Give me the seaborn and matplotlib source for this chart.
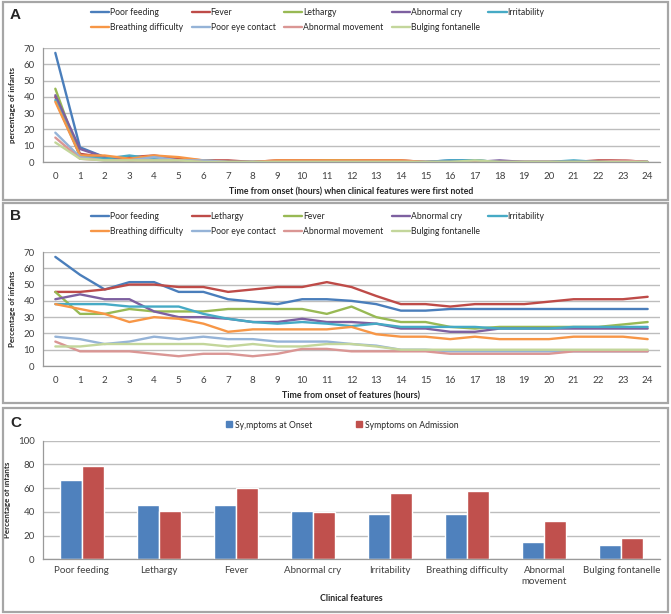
import numpy as np
import pandas as pd
import seaborn as sns
import matplotlib.pyplot as plt
from matplotlib.patches import Rectangle
from matplotlib.lines import Line2D

# ---- data -------------------------------------------------------------
hours = list(range(25))

# panel A: hour when each feature was first noted (% of infants)
a_poor_feeding = [67, 9, 3, 2, 1, 1, 1, 0, 0, 0, 0, 0, 0, 0, 0, 0, 1, 1, 0, 0, 0, 0, 0, 0, 0]
a_fever = [40, 5, 3, 3, 4, 2, 1, 1, 0, 1, 1, 1, 1, 1, 1, 0, 0, 0, 0, 0, 0, 0, 1, 1, 0]
a_lethargy = [45, 3, 2, 1, 1, 1, 0, 0, 0, 0, 0, 1, 1, 0, 0, 0, 0, 1, 0, 0, 0, 0, 0, 0, 0]
a_abnormal_cry = [41, 8, 3, 1, 2, 1, 1, 0, 0, 0, 0, 0, 0, 0, 0, 0, 0, 0, 1, 0, 0, 0, 0, 0, 0]
a_irritability = [38, 4, 2, 4, 2, 1, 1, 0, 0, 0, 0, 0, 0, 0, 0, 0, 1, 1, 0, 0, 0, 1, 0, 0, 0]
a_breathing = [37, 4, 4, 2, 4, 3, 1, 0, 0, 1, 1, 1, 1, 1, 1, 0, 0, 0, 0, 0, 0, 0, 0, 0, 0]
a_eye_contact = [18, 3, 1, 1, 3, 1, 1, 0, 0, 0, 0, 0, 0, 0, 0, 0, 0, 0, 0, 0, 0, 0, 0, 0, 0]
a_abnormal_movement = [15, 2, 1, 1, 1, 1, 0, 0, 0, 0, 0, 0, 0, 0, 0, 0, 0, 0, 0, 0, 0, 0, 0, 1, 0]
a_bulging = [12, 2, 1, 1, 1, 1, 0, 0, 0, 0, 0, 0, 0, 0, 0, 0, 0, 1, 0, 0, 0, 0, 0, 0, 0]

# panel B: features present over time (% of infants)
b_poor_feeding = [67, 56, 47, 51.5, 51.5, 45.5, 45.5, 41, 39.5, 38, 41, 41, 40, 38, 34, 34, 35, 35, 35, 35, 35, 35, 35, 35, 35]
b_lethargy = [45.5, 45.5, 47, 50, 50, 48.5, 48.5, 45.5, 47, 48.5, 48.5, 51.5, 48.5, 43, 38, 38, 36.5, 38, 38, 38, 39.5, 41, 41, 41, 42.5]
b_fever = [45.5, 32, 32, 35, 33.5, 33.5, 33.5, 35, 35, 35, 35, 32, 36.5, 30, 27, 27, 24, 23, 24, 24, 24, 24, 24, 25.5, 27]
b_abnormal_cry = [41, 44, 41, 41, 33.5, 30, 30, 29, 27, 27, 29, 27, 27, 26, 23, 23, 21, 21, 23, 23, 23, 23, 23, 23, 23]
b_irritability = [38, 38, 38, 36.5, 36.5, 36.5, 32, 29, 27, 26, 27, 26, 24.5, 26, 24, 24, 24, 24, 23, 23, 23, 24, 24, 24, 24]
b_breathing = [38, 35, 32, 27, 30, 29, 26, 21, 22.5, 22.5, 22.5, 22.5, 24, 19.5, 18, 18, 16.5, 18, 16.5, 16.5, 16.5, 18, 18, 18, 16.5]
b_eye_contact = [18, 16.5, 13.5, 15, 18, 16.5, 18, 16.5, 16.5, 15, 15, 15, 13.5, 12.5, 10, 10, 9, 9, 9, 9, 9, 9, 9, 9, 9]
b_abnormal_movement = [15, 9, 9, 9, 7.5, 6, 7.5, 7.5, 6, 7.5, 10.5, 10.5, 9, 9, 9, 9, 7.5, 7.5, 7.5, 7.5, 7.5, 9, 9, 9, 9]
b_bulging = [12, 12, 13.5, 13.5, 13.5, 13.5, 13.5, 12, 13.5, 12, 12, 13.5, 13.5, 12, 10, 10, 10, 10, 10, 10, 10, 10, 10, 10, 10]

# panel C: onset vs admission
features = ['Poor feeding', 'Lethargy', 'Fever', 'Abnormal cry', 'Irritability',
            'Breathing difficulty', 'Abnormal\nmovement', 'Bulging fontanelle']
onset = [67, 45.5, 45.5, 41, 38, 38, 15, 12]
admission = [79, 41, 60.5, 39.5, 56, 58, 32, 18]

excel_colors = ['#4A7EBB', '#BE4B48', '#98B954', '#7D60A0', '#46AAC5',
                '#F79646', '#95B3D7', '#DA9694', '#C3D69B']

a_series = {'Poor feeding': a_poor_feeding, 'Fever': a_fever, 'Lethargy': a_lethargy,
            'Abnormal cry': a_abnormal_cry, 'Irritability': a_irritability,
            'Breathing difficulty': a_breathing, 'Poor eye contact': a_eye_contact,
            'Abnormal movement': a_abnormal_movement, 'Bulging fontanelle': a_bulging}
b_series = {'Poor feeding': b_poor_feeding, 'Lethargy': b_lethargy, 'Fever': b_fever,
            'Abnormal cry': b_abnormal_cry, 'Irritability': b_irritability,
            'Breathing difficulty': b_breathing, 'Poor eye contact': b_eye_contact,
            'Abnormal movement': b_abnormal_movement, 'Bulging fontanelle': b_bulging}

sns.set_style('white')
plt.rcParams['font.family'] = ['Lato', 'DejaVu Sans']
tick_color = '#404040'
grid_color = '#BDBDBD'

W, H = 671, 614
fig = plt.figure(figsize=(W / 100, H / 100), dpi=100)


def px_axes(left, top, right, bottom):
    return fig.add_axes([left / W, 1 - bottom / H, (right - left) / W, (bottom - top) / H])


def style_axes(ax, ymax, ystep):
    ax.set_ylim(0, ymax)
    ax.set_yticks(np.arange(0, ymax + 1, ystep))
    ax.yaxis.grid(True, color=grid_color, lw=1)
    ax.set_axisbelow(True)
    for s in ['top', 'right']:
        ax.spines[s].set_visible(False)
    for s in ['left', 'bottom']:
        ax.spines[s].set_color('#9A9A9A')
        ax.spines[s].set_linewidth(0.9)
    ax.tick_params(axis='y', length=3, color='#9A9A9A', labelsize=7, labelcolor=tick_color, pad=3)
    ax.tick_params(axis='x', which='major', length=0, labelsize=7, labelcolor=tick_color, pad=7)
    ax.tick_params(axis='x', which='minor', length=3, color='#9A9A9A')


def draw_box(top, bottom):
    fig.patches.append(Rectangle((3 / W, 1 - bottom / H), (668 - 3) / W, (bottom - top) / H,
                                 transform=fig.transFigure, fill=False,
                                 edgecolor='#A6A6A6', lw=1.6))


def line_panel(series, top, bottom, legend_top, xlabel, ylabel, letter, box):
    draw_box(*box)
    names = list(series.keys())
    df = pd.DataFrame({'hour': hours * len(names),
                       'feature': np.repeat(names, len(hours)),
                       'pct': np.concatenate([series[n] for n in names])})
    ax = px_axes(43, top, 660, bottom)
    sns.lineplot(data=df, x='hour', y='pct', hue='feature', hue_order=names,
                 palette=excel_colors, lw=1.7, ax=ax, legend=False)
    ax.set_xlim(-0.5, 24.5)
    ax.set_xticks(hours)
    ax.set_xticks(np.arange(-0.5, 25, 1), minor=True)
    style_axes(ax, 70, 10)
    ax.set_xlabel(xlabel, fontsize=6.3, fontweight='bold', labelpad=5)
    ax.set_ylabel(ylabel, fontsize=5.8, fontweight='bold', labelpad=5)
    # legend: 5 entries in the first row, 4 in the second
    handles = [Line2D([], [], color=c, lw=1.7) for c in excel_colors]
    order = [0, 5, 1, 6, 2, 7, 3, 8, 4]
    fig.legend([handles[i] for i in order], [names[i] for i in order],
               loc='upper left', bbox_to_anchor=(91 / W, 1 - legend_top / H),
               ncol=5, frameon=False, fontsize=6.2, handlelength=2.1,
               handletextpad=0.1, columnspacing=1.0, labelspacing=0.75,
               borderpad=0, borderaxespad=0)
    fig.text(10 / W, 1 - (box[0] + 13) / H, letter, fontsize=11, fontweight='bold',
             family=['Liberation Sans', 'DejaVu Sans'], va='center')
    return ax


line_panel(a_series, 48, 162, 8, 'Time from onset (hours) when clinical features were first noted',
           'percentage of infants', 'A', (2, 200))
line_panel(b_series, 252, 366, 212, 'Time from onset of features (hours)',
           'Percentage of infants', 'B', (203, 403))

# ---- panel C ----------------------------------------------------------
draw_box(408, 612)
dfc = pd.DataFrame({'feature': features * 2,
                    'group': ['Sy,mptoms at Onset'] * len(features) + ['Symptoms on Admission'] * len(features),
                    'pct': onset + admission})
axc = px_axes(43, 440.7, 660, 559.3)
sns.barplot(data=dfc, x='feature', y='pct', hue='group', palette=['#4F81BD', '#C0504D'],
            width=0.572, gap=0, saturation=1, ax=axc, legend=False)
axc.set_xlim(-0.5, len(features) - 0.5)
axc.set_xticks(np.arange(-0.5, len(features), 1), minor=True)
style_axes(axc, 100, 20)
axc.tick_params(axis='x', which='major', pad=5)
axc.set_xlabel('Clinical features', fontsize=6.3, fontweight='bold', labelpad=6)
axc.set_ylabel('Percentage of infants', fontsize=5.8, fontweight='bold', labelpad=5)
sq = [Line2D([], [], ls='', marker='s', ms=4, color=c) for c in ['#4F81BD', '#C0504D']]
fig.legend(sq, ['Sy,mptoms at Onset', 'Symptoms on Admission'], loc='center left',
           bbox_to_anchor=(226 / W, 1 - 425 / H), ncol=2, frameon=False, fontsize=6.2,
           handlelength=0.8, handletextpad=0.3, columnspacing=5.0, borderpad=0, borderaxespad=0)
fig.text(10 / W, 1 - 423 / H, 'C', fontsize=11, fontweight='bold',
         family=['Liberation Sans', 'DejaVu Sans'], va='center')

fig.savefig('out.png', dpi=100)
